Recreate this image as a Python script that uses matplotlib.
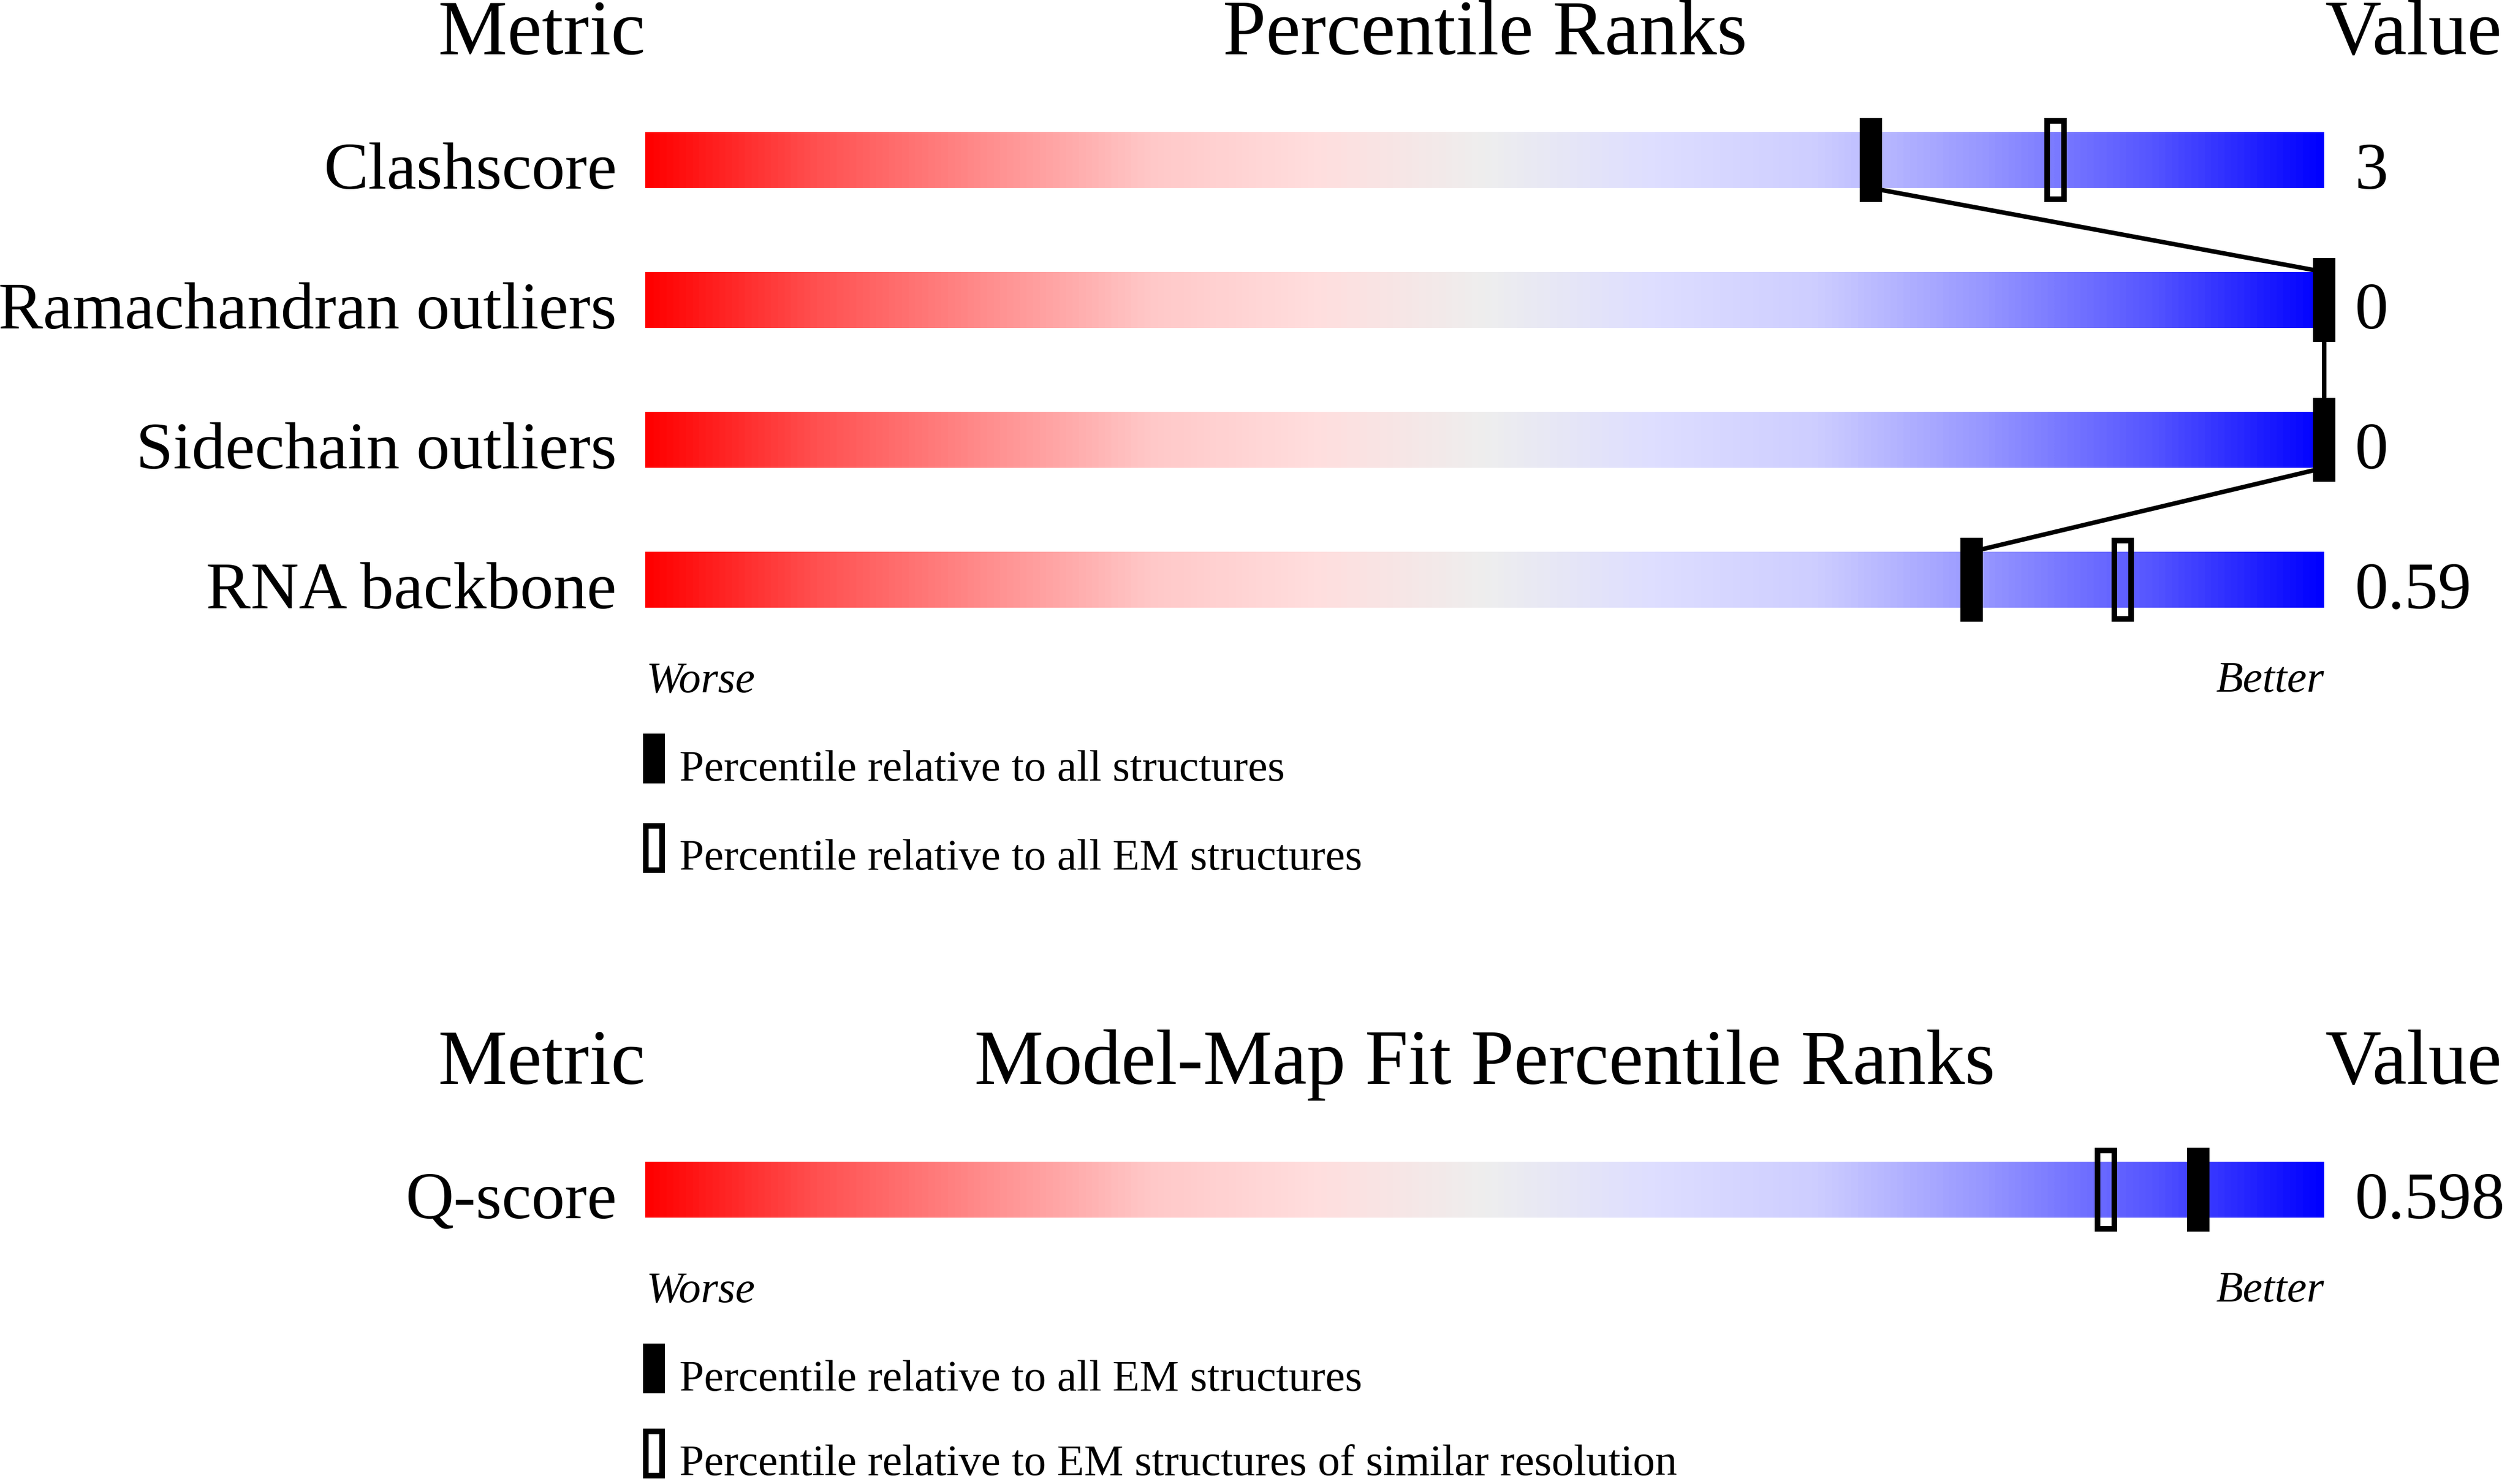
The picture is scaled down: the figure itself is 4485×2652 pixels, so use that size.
import numpy as np
import matplotlib
matplotlib.use("Agg")
import matplotlib.pyplot as plt
from matplotlib.colors import LinearSegmentedColormap
from matplotlib.patches import Rectangle

plt.rcParams['font.family'] = ['Liberation Serif', 'DejaVu Serif']

quality_metrics = ["Clashscore", "Ramachandran outliers", "Sidechain outliers", "RNA backbone"]
quality_values = ["3", "0", "0", "0.59"]
quality_pct_all = [73, 100, 100, 79]      # filled marker
quality_pct_em = [84, 100, 100, 88]       # open marker
quality_legend = ["Percentile relative to all structures",
                  "Percentile relative to all EM structures"]

fit_metrics = ["Q-score"]
fit_values = ["0.598"]
fit_pct_all_em = [92.5]                   # filled marker
fit_pct_similar = [87]                    # open marker
fit_legend = ["Percentile relative to all EM structures",
              "Percentile relative to EM structures of similar resolution"]

# --- layout (pixels) ---
W, H = 4485, 2652
DPI = 100
BAR_X0, BAR_X1 = 1153, 4153
ROW_STEP = 250
BAR_H = 100
MARK_W, MARK_H = 40, 150
OPEN_STROKE = 10
PX = 72.0 / DPI   # points per pixel

ramp_stops = [(0.0, "#ff0000"), (0.1, "#ff5050"), (0.2, "#ff8c8c"), (0.3, "#ffc8c8"),
              (0.4, "#ffdede"), (0.5, "#eeeeee"), (0.6, "#dedeff"), (0.7, "#cdcdff"),
              (0.8, "#9696ff"), (0.9, "#5555ff"), (1.0, "#0000ff")]
cmap = LinearSegmentedColormap.from_list("slider", ramp_stops)
ramp = np.linspace(0, 1, 512).reshape(1, -1)

fig = plt.figure(figsize=(W / DPI, H / DPI), dpi=DPI)
ov = fig.add_axes([0, 0, 1, 1])
ov.set_xlim(0, W)
ov.set_ylim(H, 0)
ov.axis('off')

HEAD_FS = 100
LABEL_FS = 86
SMALL_FS = 57


def draw_panel(title, metrics, values, pct_filled, pct_open, legend_labels, row0, legend_gap=318):
    n = len(metrics)
    top = row0 - ROW_STEP / 2
    bottom = row0 + (n - 0.5) * ROW_STEP
    ax = fig.add_axes([BAR_X0 / W, 1 - bottom / H, (BAR_X1 - BAR_X0) / W, (bottom - top) / H])

    bh = BAR_H / ROW_STEP
    mh = MARK_H / ROW_STEP
    mw = MARK_W / (BAR_X1 - BAR_X0) * 100
    sx = OPEN_STROKE / 2 / (BAR_X1 - BAR_X0) * 100
    sy = OPEN_STROKE / 2 / ROW_STEP

    for i in range(n):
        ax.imshow(ramp, cmap=cmap, extent=(0, 100, i + bh / 2, i - bh / 2),
                  aspect='auto', interpolation='bilinear', zorder=1)

    # line joining the filled markers
    if n > 1:
        xs, ys = [], []
        for i, p in enumerate(pct_filled):
            xs += [p, p]
            ys += [i - bh / 2, i + bh / 2]
        ax.plot(xs, ys, color='black', lw=8 * PX, zorder=2, clip_on=False)

    for i, p in enumerate(pct_open):
        ax.add_patch(Rectangle((p - mw / 2 + sx, i - mh / 2 + sy), mw - 2 * sx, mh - 2 * sy,
                               fill=False, edgecolor='black', lw=OPEN_STROKE * PX,
                               zorder=3, clip_on=False))
    for i, p in enumerate(pct_filled):
        ax.add_patch(Rectangle((p - mw / 2, i - mh / 2), mw, mh, facecolor='black',
                               edgecolor='none', zorder=4, clip_on=False))

    ax.set_xlim(0, 100)
    ax.set_ylim(n - 0.5, -0.5)
    ax.axis('off')

    # headings
    head_y = row0 - 189
    ov.text(BAR_X0, head_y, "Metric", fontsize=HEAD_FS, ha='right', va='baseline')
    ov.text((BAR_X0 + BAR_X1) / 2, head_y, title, fontsize=HEAD_FS, ha='center', va='baseline')
    ov.text(BAR_X1 + 2, head_y, "Value", fontsize=HEAD_FS, ha='left', va='baseline')

    # row labels and values
    for i in range(n):
        base = row0 + i * ROW_STEP + BAR_H / 2 + 1
        ov.text(BAR_X0 - 51, base, metrics[i], fontsize=LABEL_FS, ha='right', va='baseline')
        ov.text(BAR_X1 + 55, base, values[i], fontsize=LABEL_FS, ha='left', va='baseline')

    worse_y = row0 + (n - 1) * ROW_STEP + BAR_H / 2 + 150
    ov.text(BAR_X0 + 2, worse_y, "Worse", fontsize=SMALL_FS, style='italic', ha='left', va='baseline')
    ov.text(BAR_X1, worse_y, "Better", fontsize=SMALL_FS, style='italic', ha='right', va='baseline')

    # legend keys
    key_x, key_w, key_h = 1149, 39, 89
    ov.add_patch(Rectangle((key_x, worse_y + 75), key_w, key_h, facecolor='black', edgecolor='none'))
    ov.text(1214, worse_y + 159, legend_labels[0], fontsize=SMALL_FS, ha='left', va='baseline')
    s = OPEN_STROKE / 2
    ov.add_patch(Rectangle((key_x + s, worse_y + legend_gap - 83 + s), key_w - 2 * s, key_h - 2 * s,
                           fill=False, edgecolor='black', lw=OPEN_STROKE * PX))
    ov.text(1214, worse_y + legend_gap, legend_labels[1], fontsize=SMALL_FS, ha='left', va='baseline')


draw_panel("Percentile Ranks", quality_metrics, quality_values,
           quality_pct_all, quality_pct_em, quality_legend, 286)
draw_panel("Model-Map Fit Percentile Ranks", fit_metrics, fit_values,
           fit_pct_all_em, fit_pct_similar, fit_legend, 2126, legend_gap=310)

fig.savefig("out.png", dpi=DPI)
plt.close(fig)
